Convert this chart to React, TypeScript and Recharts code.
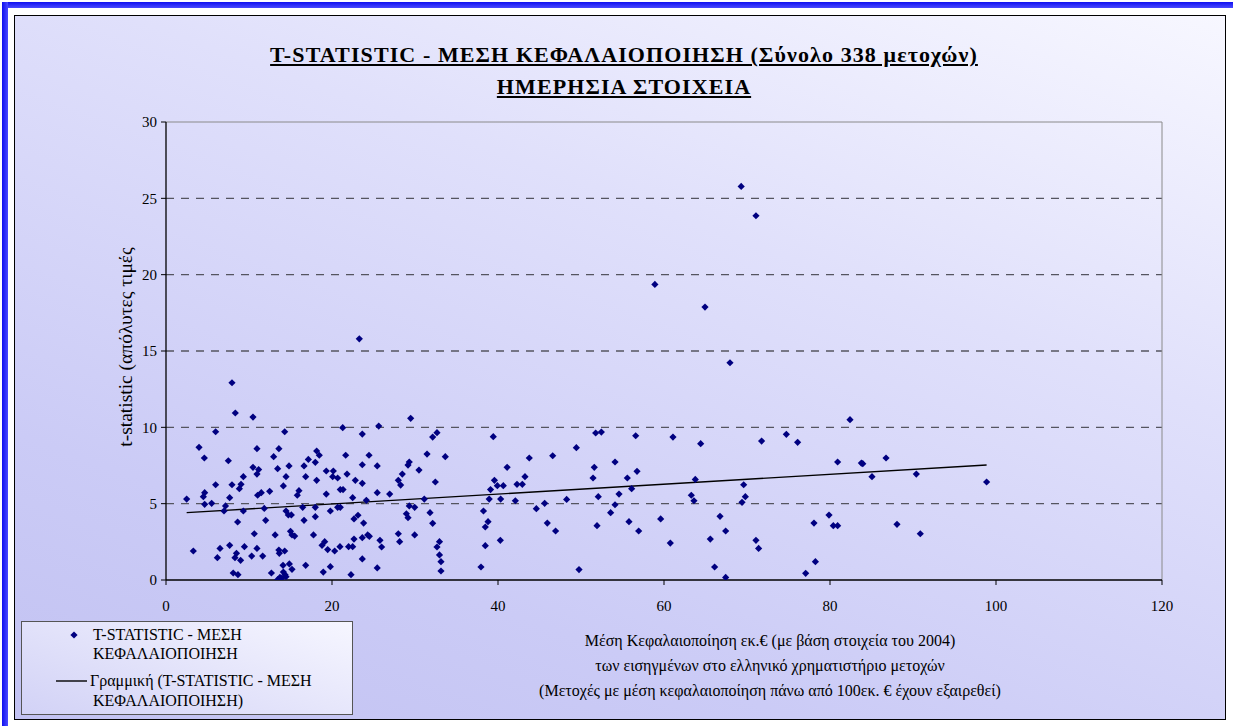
import React from 'react';
import { ScatterChart, Scatter, XAxis, YAxis, ReferenceLine } from 'recharts';

// Mean capitalisation (million €) of each stock
const capValues = [
  7.95, 8.35, 10.48, 5.98, 3.98, 4.62, 10.96, 13.6, 7.51, 12.97, 13.45, 10.48, 11.16, 10.96, 9.32, 5.98, 7.95, 9.04, 8.84, 4.66,
  4.5, 2.49, 7.67, 11.04, 11.48, 12.49, 4.66, 5.5, 7.17, 6.99, 9.32, 11.84, 8.63, 12.01, 10.64, 13.15, 3.29, 6.51, 7.67, 9.45,
  10.96, 6.19, 8.49, 8.31, 8.99, 10.32, 11.65, 13.6, 8.1, 8.67, 12.7, 13.45,
  14.3, 21.29, 23.65, 25.63, 18.15, 18.47, 17.15, 17.99, 21.65, 24.46, 14.82, 16.63, 23.65, 25.45, 14.46, 16.83, 19.31, 20.16,
  20.08, 20.68, 21.81, 18.15, 22.81, 23.65, 14.14, 16.02, 15.82, 19.31, 21.0, 21.33, 22.49, 24.14, 25.45, 26.95, 14.46, 14.74,
  15.1, 16.47, 17.99, 19.8, 20.68, 21.0, 16.63, 17.99, 22.65, 23.13, 23.81, 15.0, 15.18, 15.5, 17.77, 19.12, 18.8, 19.48,
  20.32, 20.96, 22.0, 22.49, 22.65, 23.65, 24.3, 24.5, 25.78, 25.98, 13.65, 14.3, 14.1, 14.86, 15.18, 16.83, 23.65, 19.8,
  18.95, 22.29, 25.45, 14.14, 14.34, 13.73, 13.94, 14.46,
  29.48, 32.13, 32.65, 39.43, 31.45, 33.65, 29.31, 29.16, 30.48, 28.47, 27.99, 28.27, 32.45, 41.1, 39.57, 39.1, 39.92, 40.64,
  31.12, 38.94, 40.32, 29.31, 29.96, 28.96, 29.16, 31.81, 32.13, 38.25, 38.8, 38.47, 27.99, 28.15, 29.96, 32.95, 32.65, 32.95,
  33.13, 33.13, 38.47, 40.28, 37.95,
  51.77, 52.45, 56.59, 49.44, 46.59, 43.77, 51.6, 54.1, 56.75, 43.25, 51.45, 55.58, 42.29, 42.93, 56.1, 42.09, 48.27, 52.08,
  54.58, 45.62, 44.62, 54.1, 53.57, 45.94, 46.94, 51.93, 55.78, 56.95, 59.6, 49.76,
  61.08, 64.42, 71.76, 74.74, 76.1, 63.77, 69.6, 63.29, 63.61, 69.8, 69.4, 66.75, 67.43, 65.58, 60.76, 71.08, 71.4, 78.07,
  79.88, 66.1, 67.43, 78.24, 77.07,
  82.41, 80.92, 83.78, 83.95, 86.75, 85.06, 90.4, 98.87, 80.4, 80.92, 88.07, 90.88,
  69.3, 71.08, 58.9, 64.94, 67.95, 23.29,
];

// Absolute t-statistic of each stock
const tValues = [
  12.92, 10.94, 10.67, 9.71, 8.69, 7.99, 8.6, 8.6, 7.81, 8.08, 7.29, 7.38, 7.23, 6.94, 6.77, 6.24, 6.24, 6.27, 5.98, 5.72,
  5.46, 5.3, 5.39, 5.55, 5.72, 5.81, 4.96, 5.02, 4.85, 4.52, 4.52, 4.69, 3.8, 3.91, 3.03, 2.95, 1.9, 2.07, 2.27, 2.18,
  2.07, 1.46, 1.75, 1.46, 1.29, 1.57, 1.57, 1.96, 0.46, 0.35, 0.46, 0.02,
  9.71, 9.98, 9.56, 10.08, 8.45, 8.17, 7.9, 7.71, 8.17, 8.17, 7.47, 7.47, 7.55, 7.47, 6.77, 6.77, 7.14, 7.14,
  6.77, 6.68, 6.94, 6.53, 6.53, 6.33, 6.16, 5.85, 5.55, 5.63, 5.92, 5.92, 5.39, 5.22, 5.72, 5.63, 4.52, 4.26,
  4.26, 4.76, 4.76, 4.52, 4.76, 4.76, 3.91, 4.15, 4.0, 4.24, 3.73, 3.19, 2.95, 2.88, 2.95, 2.51, 2.27, 1.99,
  1.9, 2.18, 2.18, 2.18, 2.68, 2.77, 2.95, 2.86, 2.6, 2.16, 1.75, 1.9, 0.96, 1.05, 0.7, 0.96, 1.38, 0.87,
  0.52, 0.35, 0.79, 0.52, 0.35, 0.17, 0.11, 0.22,
  10.59, 9.36, 9.65, 9.39, 8.25, 8.08, 7.73, 7.53, 7.2, 6.94, 6.53, 6.22, 6.42, 7.38, 6.53, 5.92, 6.18, 6.18,
  5.3, 5.3, 5.3, 4.85, 4.76, 4.34, 4.08, 4.41, 3.71, 4.52, 3.82, 3.47, 3.03, 2.51, 2.95, 2.51, 2.16, 1.64,
  1.2, 0.59, 2.25, 2.6, 0.85,
  9.63, 9.69, 9.45, 8.67, 8.14, 7.99, 7.38, 7.73, 7.12, 6.77, 6.68, 6.68, 6.27, 6.27, 5.98, 5.19, 5.28, 5.46,
  5.63, 5.02, 4.67, 4.93, 4.41, 3.73, 3.21, 3.56, 3.82, 3.21, 4.0, 0.68,
  9.36, 8.93, 9.1, 9.54, 9.02, 6.59, 6.24, 5.55, 5.19, 5.46, 5.09, 4.17, 3.21, 2.68, 2.42, 2.6, 2.07, 3.73,
  4.25, 0.85, 0.17, 1.2, 0.44,
  10.5, 7.73, 7.66, 7.62, 7.99, 6.77, 6.94, 6.42, 3.56, 3.56, 3.65, 3.03,
  25.78, 23.86, 19.36, 17.88, 14.23, 15.8,
];

const xTicks = [0, 20, 40, 60, 80, 100, 120];
const yTicks = [0, 5, 10, 15, 20, 25, 30];
const gridLevels = [5, 10, 15, 20, 25];
const trendX = [2.49, 98.87];
const trendY = [4.41, 7.53];

const titleLines = ['T-STATISTIC - ΜΕΣΗ ΚΕΦΑΛΑΙΟΠΟΙΗΣΗ (Σύνολο 338 μετοχών)', 'ΗΜΕΡΗΣΙΑ ΣΤΟΙΧΕΙΑ'];
const xLabelLines = [
  'Μέση Κεφαλαιοποίηση εκ.€ (με βάση στοιχεία του 2004)',
  'των εισηγμένων στο ελληνικό χρηματιστήριο μετοχών',
  '(Μετοχές με μέση κεφαλαιοποίηση πάνω από 100εκ. € έχουν εξαιρεθεί)',
];
const yLabel = 't-statistic (απόλυτες τιμές';

const data = capValues.map((x, i) => ({ x, y: tValues[i] }));

const FONT = '"Liberation Serif", "Times New Roman", serif';
const MARK = '#000080';

const Diamond = (props: any) => {
  const { cx, cy } = props;
  if (cx == null || cy == null) return null;
  const r = 3.6;
  return (
    <polygon
      points={`${cx},${cy - r} ${cx + r},${cy} ${cx},${cy + r} ${cx - r},${cy}`}
      fill={MARK}
    />
  );
};

export default function App() {
  return (
    <div style={{ position: 'relative', width: 1233, height: 726, background: '#fff', overflow: 'hidden', fontFamily: FONT }}>
      <style>{'body{margin:0}'}</style>
      {/* blue outer border (top / left) */}
      <div style={{ position: 'absolute', left: 2, top: 2, width: 1231, height: 6, background: 'linear-gradient(180deg,#1010f0,#4a4aff)' }} />
      <div style={{ position: 'absolute', left: 2, top: 2, width: 6, height: 724, background: 'linear-gradient(90deg,#1010f0,#4a4aff)' }} />
      {/* chart frame */}
      <div
        style={{
          position: 'absolute', left: 14, top: 15, width: 1210, height: 703,
          border: '1.5px solid #000',
          background: 'linear-gradient(200deg, #f7f7ff 0%, #e0e0fb 35%, #cbcbf6 75%, #c2c2f2 100%)',
        }}
      />
      {/* title */}
      {titleLines.map((t, i) => (
        <div
          key={i}
          style={{
            position: 'absolute', left: 0, width: 1248, top: 42 + i * 32, textAlign: 'center',
            fontFamily: FONT, fontSize: 22, fontWeight: 'bold', letterSpacing: '1.1px', lineHeight: '26px',
            textDecoration: 'underline', color: '#000',
          }}
        >
          {t}
        </div>
      ))}
      {/* x axis label */}
      <div style={{ position: 'absolute', left: 470, width: 600, top: 628, textAlign: 'center', fontSize: 16, lineHeight: '25px', color: '#000' }}>
        {xLabelLines.map((t, i) => (
          <div key={i}>{t}</div>
        ))}
      </div>
      {/* legend */}
      <div
        style={{
          position: 'absolute', left: 21, top: 621, width: 330, height: 92, border: '1px solid #555',
          background: 'linear-gradient(20deg, #d2d2f6 0%, #f6f6ff 100%)', fontSize: 16, color: '#000',
        }}
      >
        <svg style={{ position: 'absolute', left: 0, top: 0 }} width={330} height={92}>
          <polygon points="52,9.4 55.6,13 52,16.6 48.4,13" fill={MARK} />
          <line x1={34} y1={59} x2={65} y2={59} stroke="#000" strokeWidth={1.4} />
        </svg>
        <div style={{ position: 'absolute', left: 71, top: 3, lineHeight: '20px', whiteSpace: 'nowrap' }}>T-STATISTIC - ΜΕΣΗ</div>
        <div style={{ position: 'absolute', left: 71, top: 22, lineHeight: '20px', whiteSpace: 'nowrap' }}>ΚΕΦΑΛΑΙΟΠΟΙΗΣΗ</div>
        <div style={{ position: 'absolute', left: 68, top: 49, lineHeight: '20px', whiteSpace: 'nowrap' }}>Γραμμική (T-STATISTIC - ΜΕΣΗ</div>
        <div style={{ position: 'absolute', left: 71, top: 69, lineHeight: '20px', whiteSpace: 'nowrap' }}>ΚΕΦΑΛΑΙΟΠΟΙΗΣΗ)</div>
      </div>
      {/* chart */}
      <div style={{ position: 'absolute', left: 0, top: 0 }}>
        <ScatterChart width={1233} height={726} margin={{ top: 122, right: 71, bottom: 116, left: 106 }} style={{ fontFamily: FONT }}>
          <XAxis
            type="number"
            dataKey="x"
            domain={[0, 120]}
            ticks={xTicks}
            interval={0}
            allowDataOverflow
            height={30}
            tickSize={5}
            tickMargin={15}
            axisLine={{ stroke: '#000', strokeWidth: 1.3 }}
            tickLine={{ stroke: '#000' }}
            tick={{ fill: '#000', fontSize: 15, fontFamily: FONT }}
          />
          <YAxis
            type="number"
            dataKey="y"
            domain={[0, 30]}
            ticks={yTicks}
            interval={0}
            allowDataOverflow
            width={60}
            tickSize={5}
            tickMargin={4}
            axisLine={{ stroke: '#000', strokeWidth: 1.3 }}
            tickLine={{ stroke: '#000' }}
            tick={{ fill: '#000', fontSize: 15, fontFamily: FONT }}
            label={{
              value: yLabel,
              content: () => (
                <text
                  x={125}
                  y={347}
                  transform="rotate(-90 125 347)"
                  textAnchor="middle"
                  dominantBaseline="central"
                  fontSize={19.5}
                  fontFamily={FONT}
                  fill="#000"
                >
                  {yLabel}
                </text>
              ),
            }}
          />
          {gridLevels.map((g) => (
            <ReferenceLine key={g} y={g} stroke="#555560" strokeWidth={1.3} strokeDasharray="8 7" />
          ))}
          <ReferenceLine y={30} stroke="#8a8a8a" strokeWidth={1} />
          <ReferenceLine x={120} stroke="#8a8a8a" strokeWidth={1} />
          <ReferenceLine
            segment={[
              { x: trendX[0], y: trendY[0] },
              { x: trendX[1], y: trendY[1] },
            ]}
            stroke="#000"
            strokeWidth={1.4}
          />
          <Scatter data={data} shape={Diamond} isAnimationActive={false} />
        </ScatterChart>
      </div>
    </div>
  );
}
